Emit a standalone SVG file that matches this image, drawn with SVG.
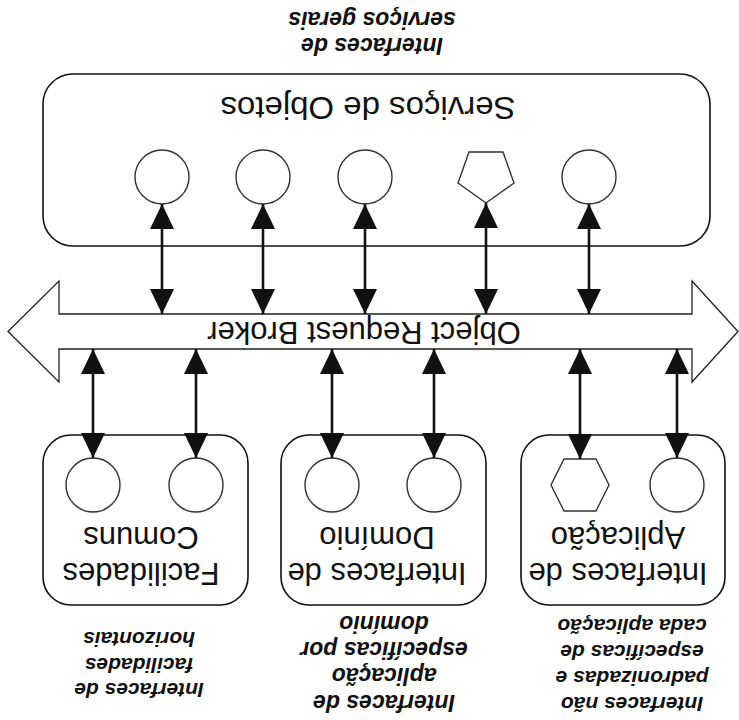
<svg xmlns="http://www.w3.org/2000/svg" width="739" height="720" viewBox="0 0 739 720">
  <style>
    .box { fill: #ffffff; stroke: #111111; stroke-width: 1.6; }
    .iface { fill: #ffffff; stroke: #333333; stroke-width: 1.4; }
    .orb { fill: #ffffff; stroke: #222222; stroke-width: 1.3; }
    .title { font-family: "Liberation Sans", Arial, sans-serif; font-size: 31px; fill: #111111; text-anchor: middle; }
    .note { font-family: "Liberation Sans", Arial, sans-serif; font-weight: bold; font-style: italic; fill: #111111; text-anchor: middle; }
    .link { stroke: #111111; stroke-width: 2.6; fill: none; marker-start: url(#head); marker-end: url(#head); }
  </style>
  <defs>
    <marker id="head" viewBox="0 0 25 24" refX="25" refY="12" markerWidth="25" markerHeight="24" markerUnits="userSpaceOnUse" orient="auto-start-reverse">
      <path d="M0,0 L25,12 L0,24 Z" fill="#111111"/>
    </marker>
  </defs>
  <rect width="739" height="720" fill="#ffffff"/>

  <!-- whole figure is printed upside down -->
  <g transform="rotate(180 369.5 360)">

    <!-- captions above the upper boxes -->
    <g id="label-application" class="note" font-size="21">
      <text x="107" y="23">Interfaces não</text>
      <text x="107" y="49">padronizadas e</text>
      <text x="107" y="75">específicas de</text>
      <text x="107" y="101">cada aplicação</text>
    </g>
    <g id="label-domain" class="note" font-size="23">
      <text x="355" y="25">Interfaces de</text>
      <text x="355" y="52">aplicação</text>
      <text x="355" y="78">específicas por</text>
      <text x="355" y="104">domínio</text>
    </g>
    <g id="label-facilities" class="note" font-size="21">
      <text x="600" y="37">Interfaces de</text>
      <text x="600" y="62">facilidades</text>
      <text x="600" y="88">horizontais</text>
    </g>

    <!-- application interfaces -->
    <g id="application-interfaces">
      <rect class="box" x="14" y="115" width="204" height="170" rx="28"/>
      <text class="title" x="121" y="157">Interfaces de</text>
      <text class="title" x="121" y="193">Aplicação</text>
      <ellipse class="iface" cx="62" cy="235" rx="27" ry="27"/>
      <polygon class="iface" points="130,235 143,209 175,209 188,235 175,261 143,261"/>
    </g>

    <!-- domain interfaces -->
    <g id="domain-interfaces">
      <rect class="box" x="253" y="115" width="205" height="170" rx="28"/>
      <text class="title" x="362" y="157">Interfaces de</text>
      <text class="title" x="362" y="193">Domínio</text>
      <ellipse class="iface" cx="305" cy="235" rx="27" ry="27"/>
      <ellipse class="iface" cx="407" cy="235" rx="27" ry="27"/>
    </g>

    <!-- common facilities -->
    <g id="common-facilities">
      <rect class="box" x="491" y="115" width="205" height="170" rx="28"/>
      <text class="title" x="598" y="157">Facilidades</text>
      <text class="title" x="598" y="193">Comuns</text>
      <ellipse class="iface" cx="543" cy="235" rx="27" ry="27"/>
      <ellipse class="iface" cx="646" cy="235" rx="27" ry="27"/>
    </g>

    <!-- object request broker -->
    <g id="orb">
      <polygon class="orb" points="1,388.5 47,338 47,371 680,371 680,338 731,388.5 680,439 680,406 47,406 47,439"/>
      <text class="title" x="375" y="398">Object Request Broker</text>
    </g>

    <!-- object services -->
    <g id="object-services">
      <rect class="box" x="29" y="474" width="667" height="172" rx="30"/>
      <text class="title" x="371" y="623" textLength="295" lengthAdjust="spacingAndGlyphs">Serviços de Objetos</text>
      <ellipse class="iface" cx="150" cy="543" rx="27" ry="27"/>
      <polygon class="iface" points="253,517 281,537 270,568 236,568 225,537"/>
      <ellipse class="iface" cx="374" cy="543" rx="27" ry="27"/>
      <ellipse class="iface" cx="476" cy="543" rx="27" ry="27"/>
      <ellipse class="iface" cx="577" cy="543" rx="27" ry="27"/>
    </g>

    <!-- label under the services box -->
    <g id="label-services" class="note" font-size="23">
      <text x="367" y="682">Interfaces de</text>
      <text x="367" y="708">serviços gerais</text>
    </g>

    <!-- bidirectional links to the broker -->
    <g id="connectors">
      <line class="link" x1="62" y1="262" x2="62" y2="371"/>
      <line class="link" x1="159" y1="261" x2="159" y2="371"/>
      <line class="link" x1="305" y1="262" x2="305" y2="371"/>
      <line class="link" x1="407" y1="262" x2="407" y2="371"/>
      <line class="link" x1="543" y1="262" x2="543" y2="371"/>
      <line class="link" x1="646" y1="262" x2="646" y2="371"/>

      <line class="link" x1="150" y1="406" x2="150" y2="516"/>
      <line class="link" x1="253" y1="406" x2="253" y2="517"/>
      <line class="link" x1="374" y1="406" x2="374" y2="516"/>
      <line class="link" x1="476" y1="406" x2="476" y2="516"/>
      <line class="link" x1="577" y1="406" x2="577" y2="516"/>
    </g>
  </g>
</svg>
